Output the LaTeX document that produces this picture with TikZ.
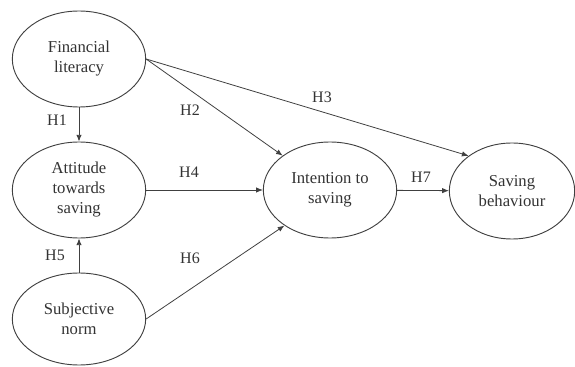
\documentclass[tikz,border=0pt]{standalone}
\usepackage{fontspec}
\setmainfont{Liberation Serif}
\usepackage{tikz}
\usetikzlibrary{shapes.geometric, arrows.meta}

\tikzset{
  construct/.style={draw=black!75, line width=0.7pt, ellipse, minimum width=100pt, minimum height=72pt, inner sep=0pt, align=center, text=black!80, font=\fontsize{12.5}{15}\selectfont},
  hyp/.style={text=black!80, font=\fontsize{12}{14}\selectfont, inner sep=0pt},
  path/.style={draw=black!75, line width=0.6pt, -{Latex[length=5pt,width=4pt]}}
}

\begin{document}
\begin{tikzpicture}[x=0.75pt,y=0.75pt,yscale=-1,xscale=1]
\useasboundingbox (0,0) rectangle (575,367);

%Constructs
\node [construct] (fl) at (79,59) {Financial\\literacy};
\node [construct] (att) at (79,190) {Attitude\\towards\\saving};
\node [construct, minimum height=69pt] (sn) at (79,319) {Subjective\\norm};
\node [construct] (int) at (330,190) {Intention to\\saving};
\node [construct, minimum width=94pt] (sb) at (512,191) {Saving\\behaviour};

%Paths
\draw [path] (fl) -- (att);
\draw [path] (sn) -- (att);
\draw [path] (fl.east) -- (int.144);
\draw [path] (fl.east) -- (sb.141);
\draw [path] (att) -- (int);
\draw [path] (sn.east) -- (int.218);
\draw [path] (int) -- (sb);

%Hypotheses
\node [hyp] (h1) at (57,120) {H1};
\node [hyp] (h2) at (190,110) {H2};
\node [hyp] (h3) at (322,97) {H3};
\node [hyp] (h4) at (189,172) {H4};
\node [hyp] (h5) at (55,255) {H5};
\node [hyp] (h6) at (190,258) {H6};
\node [hyp] (h7) at (421,177) {H7};

\end{tikzpicture}
\end{document}
